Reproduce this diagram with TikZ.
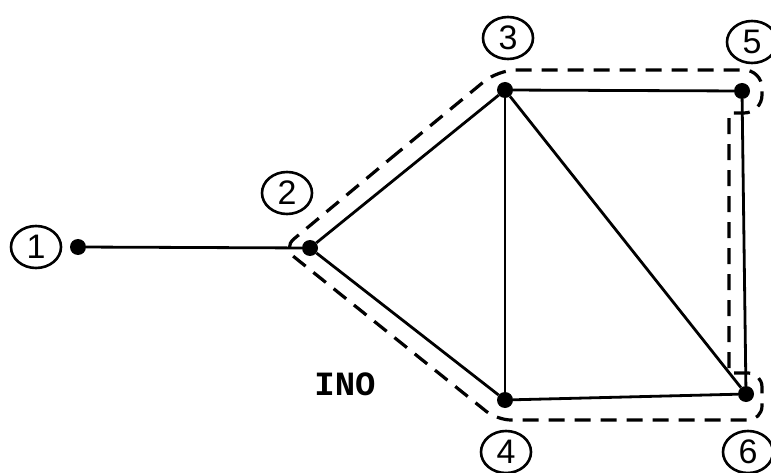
\documentclass[tikz,border=0pt]{standalone}
\usepackage{fontspec}
\setsansfont{Liberation Sans}
\setmonofont{Liberation Mono}
\usetikzlibrary{shapes.geometric}
\begin{document}
\begin{tikzpicture}[x=1pt,y=-1pt,
  vertex/.style={circle,fill=black,inner sep=0pt,minimum size=16pt},
  lab/.style={ellipse,draw,line width=2.6pt,inner sep=0pt,minimum width=50pt,minimum height=42pt,font=\sffamily\fontsize{34}{34}\selectfont},
  edge/.style={line width=2.8pt},
  outline/.style={line width=3.2pt,dash pattern=on 16pt off 10pt}]
\useasboundingbox (0,0) rectangle (771,473);
% vertices
\node[vertex] (n1) at (78,247) {};
\node[vertex] (n2) at (310,248) {};
\node[vertex] (n3) at (505,90) {};
\node[vertex] (n4) at (505,400) {};
\node[vertex] (n5) at (742,91) {};
\node[vertex] (n6) at (746,394) {};
% labels
\node[lab] (l1) at (36,247) {1};
\node[lab] (l2) at (287,193) {2};
\node[lab] (l3) at (508,38) {3};
\node[lab] (l4) at (506,452) {4};
\node[lab] (l5) at (752,42) {5};
\node[lab] (l6) at (748,452) {6};
% edges
\draw[edge] (n1) -- (n2);
\draw[edge] (n2) -- (n3);
\draw[edge] (n2) -- (n4);
\draw[edge] (n3) -- (n5);
\draw[edge] (n3) -- (n4);
\draw[edge] (n3) -- (n6);
\draw[edge] (n4) -- (n6);
\draw[edge] (n5) -- (n6);
% dashed outline
\draw[outline,rounded corners=18pt] (390,159) -- (498,70) -- (762,70) -- (762,113)
  [sharp corners] -- (729,113) -- (729,373) [rounded corners=14pt] -- (762,373) -- (762,420)
  -- (497,420) -- (283,248) -- (390,159);
% text
\node[font=\ttfamily\bfseries\fontsize{34}{34}\selectfont] (ino) at (345,384) {INO};
\end{tikzpicture}
\end{document}
